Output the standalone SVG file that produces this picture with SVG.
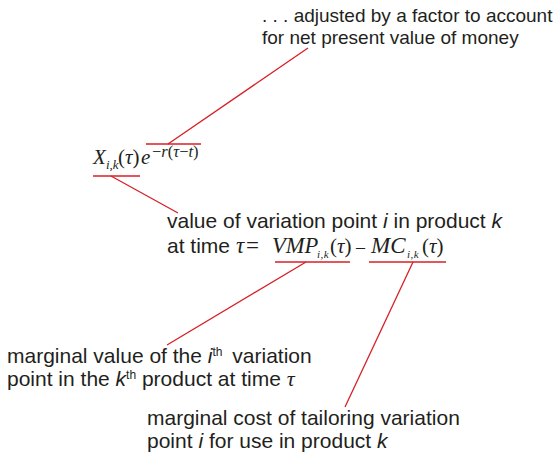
<svg xmlns="http://www.w3.org/2000/svg" width="553" height="453" viewBox="0 0 553 453">
  <style>
    .bg { fill: #ffffff; }
    .lbl { font-family: "Liberation Sans", Arial, sans-serif; font-size: 21px; fill: #231f20; }
    .lbl-s { font-family: "Liberation Sans", Arial, sans-serif; font-size: 19px; fill: #231f20; }
    .it { font-style: italic; }
    .m { font-family: "Liberation Serif", "Times New Roman", serif; fill: #231f20; }
    .mi { font-family: "Liberation Serif", "Times New Roman", serif; font-style: italic; fill: #231f20; }
    .sub { font-family: "Liberation Serif", "Times New Roman", serif; font-style: italic; fill: #231f20; font-size: 11px; letter-spacing: 0.5px; }
    .sup { font-size: 12px; }
    .conn { stroke: #d71f26; stroke-width: 1.3; fill: none; }
  </style>
  <rect class="bg" x="0" y="0" width="553" height="453"/>

  <g id="connectors">
    <line class="conn" x1="146" y1="144" x2="201" y2="144"/>
    <line class="conn" x1="168" y1="144" x2="308" y2="48"/>
    <line class="conn" x1="93" y1="176" x2="140" y2="176"/>
    <line class="conn" x1="111" y1="176" x2="178" y2="213"/>
    <line class="conn" x1="275" y1="262" x2="350" y2="262"/>
    <line class="conn" x1="306" y1="262" x2="167" y2="345"/>
    <line class="conn" x1="369" y1="262" x2="446" y2="262"/>
    <line class="conn" x1="413" y1="262" x2="345" y2="407"/>
  </g>

  <g id="node-npv">
    <text class="lbl-s" x="262" y="22">. . . adjusted by a factor to account</text>
    <text class="lbl-s" x="262" y="44">for net present value of money</text>
  </g>

  <g id="node-formula">
    <text class="mi" x="93" y="164" font-size="21">X</text>
    <text class="mi" x="106" y="169" font-size="13">i,k</text>
    <text class="m" x="118" y="164" font-size="21">(<tspan class="mi">τ</tspan>)</text>
    <text class="mi" x="141" y="164" font-size="21">e</text>
    <text class="m" x="152" y="157" font-size="16.5">−<tspan class="mi">r</tspan>(<tspan class="mi">τ</tspan>−<tspan class="mi">t</tspan>)</text>
  </g>

  <g id="node-value">
    <text class="lbl" x="167" y="228">value of variation point <tspan class="it">i</tspan> in product <tspan class="it">k</tspan></text>
    <text class="lbl" x="167" y="253">at time</text>
    <text class="mi" x="236" y="253" font-size="23">τ</text>
    <text class="m" x="246" y="253" font-size="23">=</text>
    <text class="mi" x="272" y="253" font-size="22.5">VMP</text>
    <text class="sub" x="317" y="258">i,k</text>
    <text class="m" x="330" y="253" font-size="21">(<tspan class="mi">τ</tspan>)</text>
    <text class="m" x="356" y="253" font-size="18">–</text>
    <text class="mi" x="371" y="253" font-size="23">MC</text>
    <text class="sub" x="407" y="258">i,k</text>
    <text class="m" x="422" y="253" font-size="21">(<tspan class="mi">τ</tspan>)</text>
  </g>

  <g id="node-vmp">
    <text class="lbl" x="7" y="363">marginal value of the <tspan class="it">i</tspan><tspan class="sup" dy="-7">th</tspan><tspan dy="7" dx="4"> variation</tspan></text>
    <text class="lbl" x="7" y="386">point in the <tspan class="it">k</tspan><tspan class="sup" dy="-7">th</tspan><tspan dy="7"> product at time </tspan><tspan class="mi" font-size="22">τ</tspan></text>
  </g>

  <g id="node-mc">
    <text class="lbl" x="147" y="425">marginal cost of tailoring variation</text>
    <text class="lbl" x="147" y="448">point <tspan class="it">i</tspan> for use in product <tspan class="it">k</tspan></text>
  </g>
</svg>
